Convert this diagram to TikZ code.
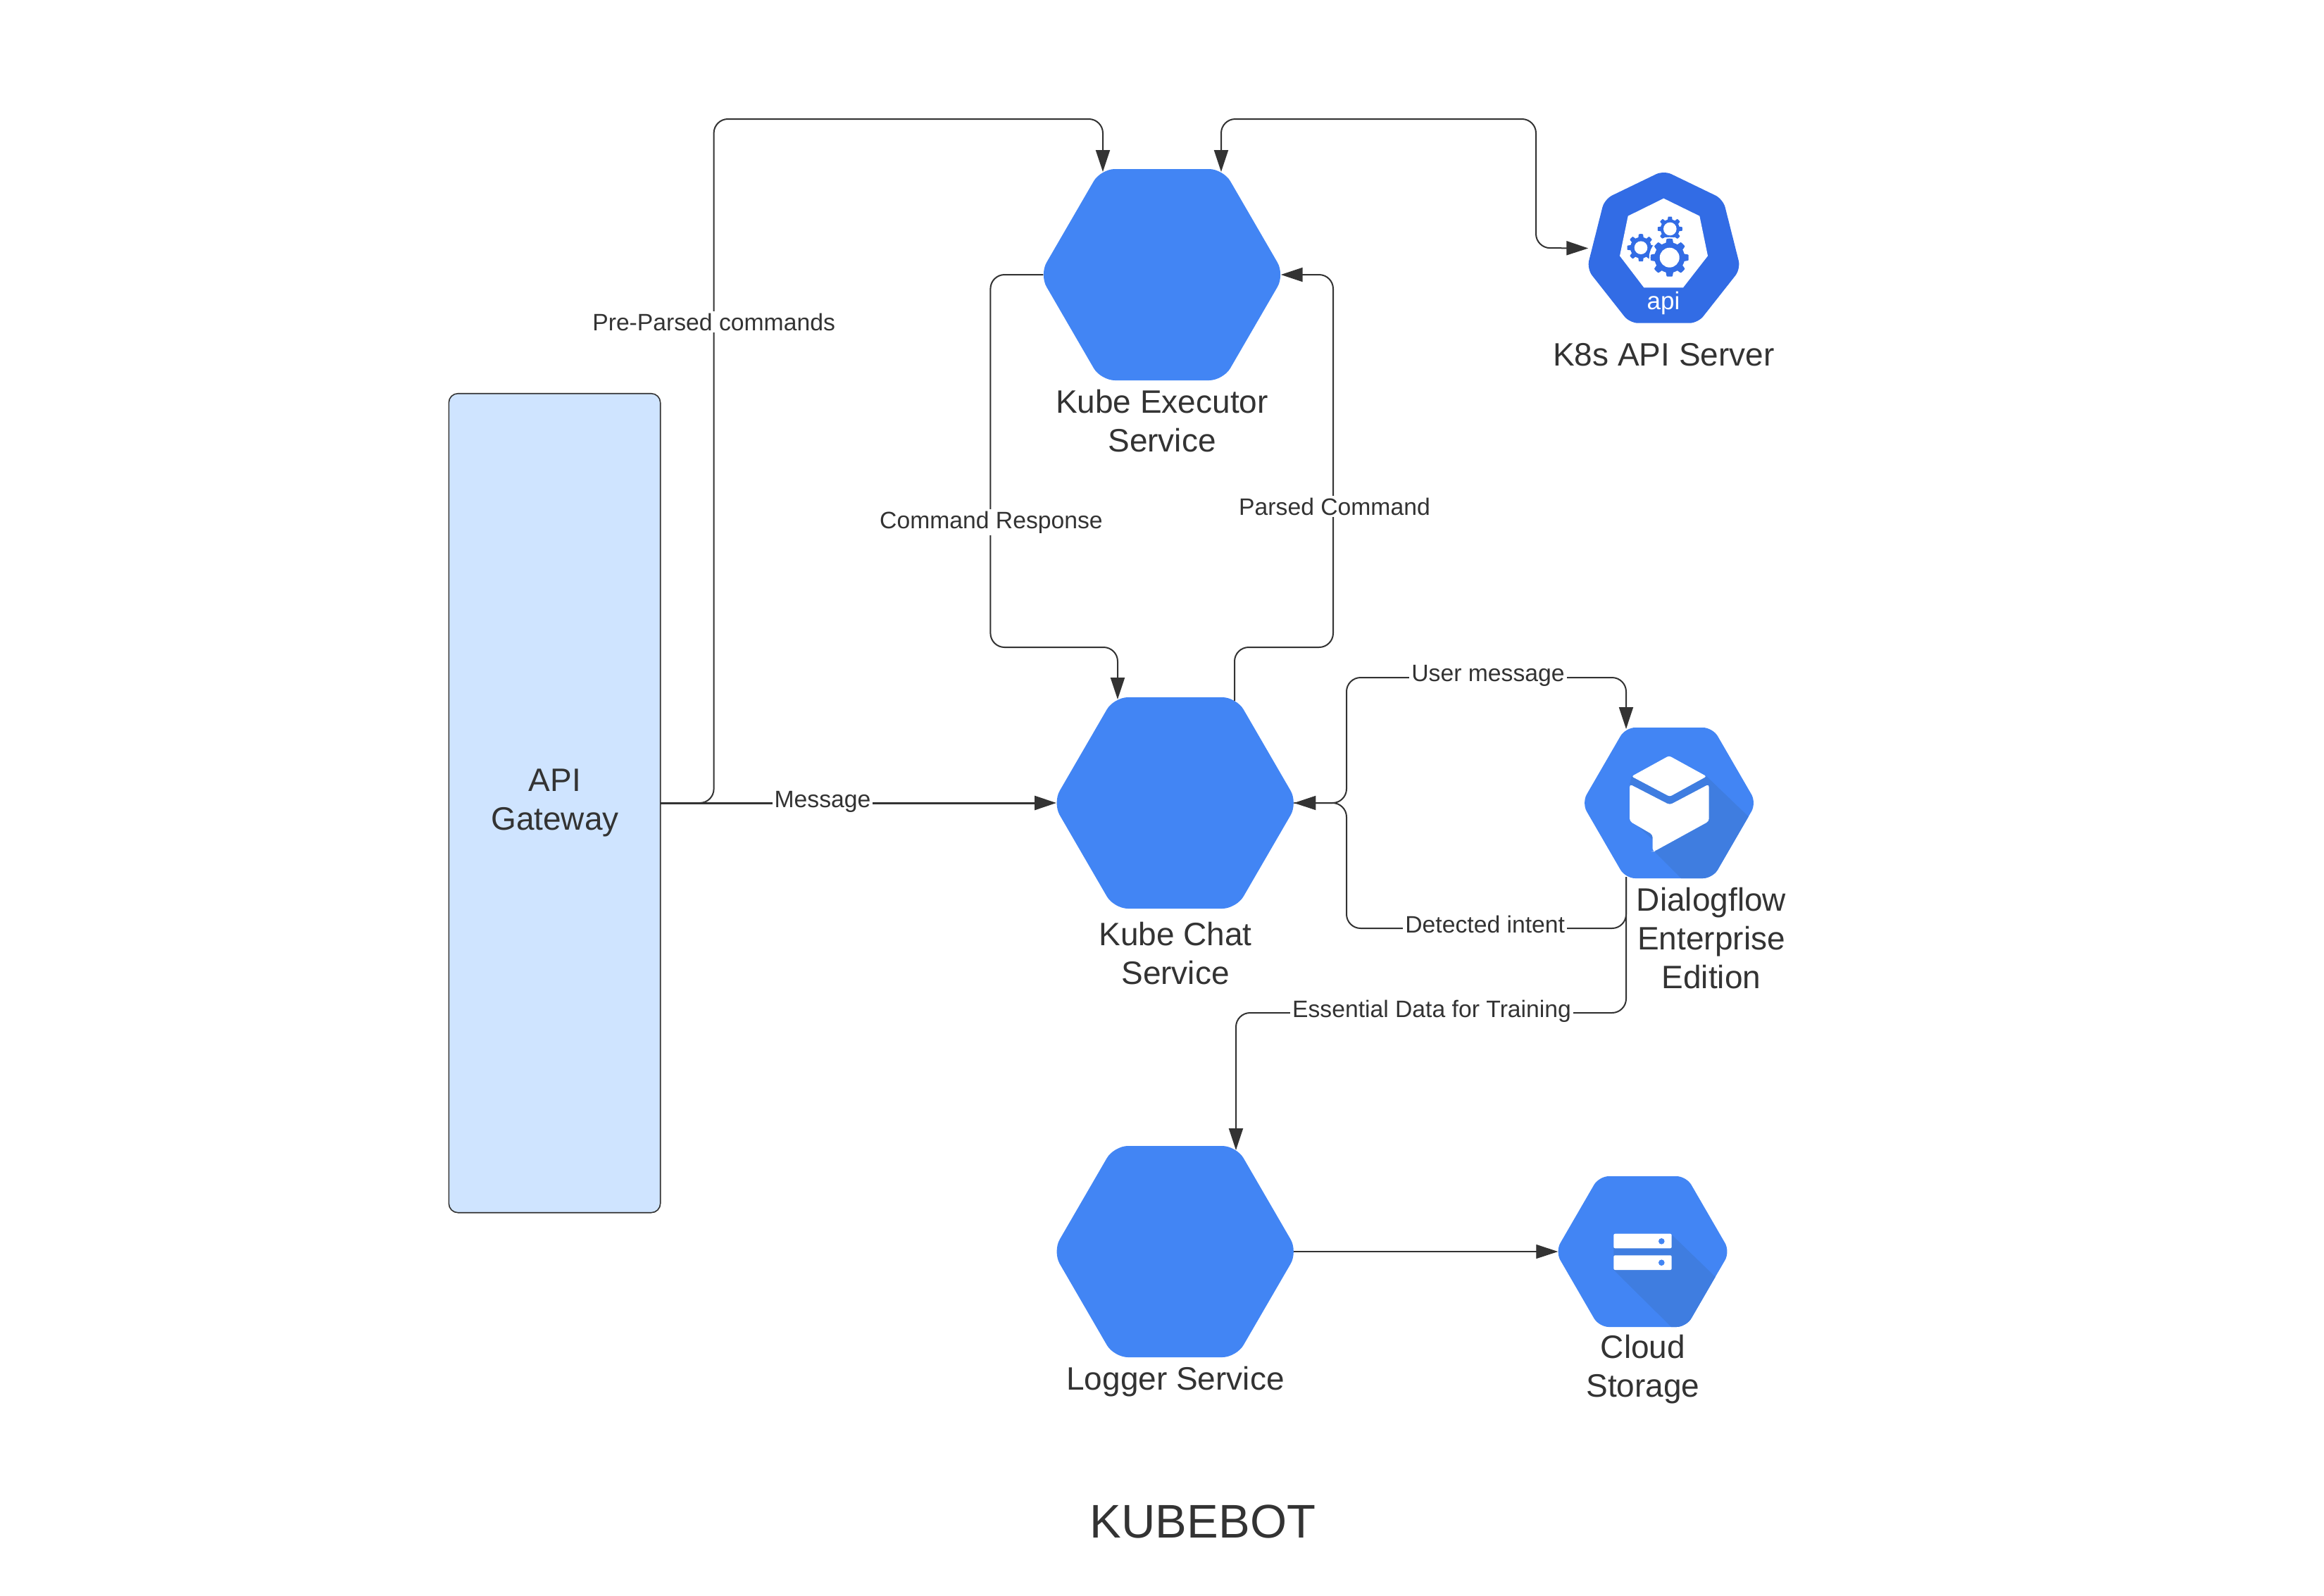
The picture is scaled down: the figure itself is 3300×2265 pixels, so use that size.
\documentclass[tikz,border=0pt]{standalone}
\usepackage{fontspec}
\setmainfont{Liberation Sans}
\usetikzlibrary{arrows.meta,calc}
\definecolor{ink}{HTML}{333333}
\definecolor{gcpblue}{HTML}{4285F4}
\definecolor{gcpshade}{HTML}{3F7DE0}
\definecolor{k8sblue}{HTML}{326CE5}
\definecolor{boxblue}{HTML}{CFE4FF}
\newcommand\hexpath[5]{(#1,#2-#5) -- ({#1+#4},{#2-#5}) -- ({#1+#3},#2) -- ({#1+#4},{#2+#5}) -- ({#1-#4},{#2+#5}) -- ({#1-#3},#2) -- ({#1-#4},{#2-#5}) -- cycle}
\newcommand\gearshape[6]{%
  \fill[#6] plot[domain=0:360,samples=241] ({#1+(#4+(#3-#4)*min(1,max(0,0.5+1.4*cos(8*\x))))*cos(\x)},{#2+(#4+(#3-#4)*min(1,max(0,0.5+1.4*cos(8*\x))))*sin(\x)}) -- cycle;
  \fill[white] (#1,#2) circle (#5pt);}
\tikzset{
  link/.style={draw=ink,line width=2pt,rounded corners=20pt},
  head/.style={-{Triangle[length=31pt,width=20pt]}},
  twohead/.style={{Triangle[length=31pt,width=20pt]}-{Triangle[length=31pt,width=20pt]}},
  tag/.style={fill=white,text=ink,font=\fontsize{33.7}{40}\selectfont,anchor=base,inner xsep=3pt,inner ysep=3pt},
  caption/.style={text=ink,font=\fontsize{46}{55}\selectfont,align=center,inner sep=0pt},
  bigport/.style={minimum width=337pt,minimum height=300pt,inner sep=0pt},
  smallport/.style={minimum width=240pt,minimum height=214pt,inner sep=0pt},
  hexsoft/.style={rounded corners=20pt},
  hexsoftsmall/.style={rounded corners=14pt},
}
\begin{document}
\begin{tikzpicture}[x=1pt,y=-1pt]
\useasboundingbox (0,0) rectangle (3300,2265);
% ---------- service shapes ----------
\node[draw=ink,line width=1.6pt,fill=boxblue,rounded corners=13pt,minimum width=300.4pt,minimum height=1163pt,inner sep=0pt] (api) at (787.5,1140.2) {};
\node[bigport] (exec) at (1650,390) {};
\node[bigport] (chat) at (1668.7,1140) {};
\node[bigport] (logger) at (1668.7,1777) {};
\node[smallport] (flow) at (2370,1140) {};
\node[smallport] (store) at (2332.5,1777) {};
\node[minimum width=214pt,minimum height=214pt,inner sep=0pt] (kapi) at (2362.5,352.5) {};
\fill[gcpblue,hexsoft] \hexpath{1650}{390}{174}{87}{150};
\fill[gcpblue,hexsoft] \hexpath{1668.7}{1140}{174}{87}{150};
\fill[gcpblue,hexsoft] \hexpath{1668.7}{1777}{174}{87}{150};
% Dialogflow
\fill[gcpblue,hexsoftsmall] \hexpath{2370}{1140}{124}{62}{107};
\begin{scope}
  \clip[hexsoftsmall] \hexpath{2370}{1140}{124}{62}{107};
  \fill[gcpshade] (2423.3,1102.3) -- (2500,1176) -- (2500,1260) -- (2400,1260) -- (2348,1208) -- (2346.7,1192) -- (2318,1166) -- cycle;
\end{scope}
\fill[gcpshade] (2316.7,1102.3) -- (2371,1131) -- (2423.3,1102.3) -- (2426.7,1113.3) -- (2371,1142.7) -- (2314,1113.3) -- cycle;
\fill[white,rounded corners=3pt] (2316.7,1102.3) -- (2370,1073) -- (2423.3,1102.3) -- (2371,1131) -- cycle;
\fill[white,rounded corners=4pt] (2314,1113.3) -- (2371,1142.7) -- (2426.7,1113.3) -- (2426.7,1166) -- (2348.5,1209) -- (2346.7,1209) -- (2346.7,1185) -- (2314,1166) -- cycle;
% Cloud storage
\fill[gcpblue,hexsoftsmall] \hexpath{2332.5}{1777}{124}{62}{107};
\begin{scope}
  \clip[hexsoftsmall] \hexpath{2332.5}{1777}{124}{62}{107};
  \fill[gcpshade] (2373.7,1753) -- (2500,1875) -- (2500,1950) -- (2440,1950) -- (2291.3,1803) -- (2291.3,1772.3) -- cycle;
\end{scope}
\fill[white,rounded corners=2pt] (2291.3,1751.7) rectangle (2373.7,1772.3);
\fill[white,rounded corners=2pt] (2291.3,1782.3) rectangle (2373.7,1803);
\fill[gcpblue] (2359.3,1762.3) circle (4.3pt);
\fill[gcpblue] (2359.3,1792.7) circle (4.3pt);
% Kubernetes API
\fill[k8sblue,rounded corners=12pt] (2362.5,242) -- (2446.7,282.7) -- (2471.7,381.7) -- (2411,458.7) -- (2314,458.7) -- (2253.3,381.7) -- (2278.3,282.7) -- cycle;
\fill[white] (2362.3,281.7) -- (2413.3,306.7) -- (2425,363.3) -- (2390,408.3) -- (2334.3,408.3) -- (2300,363.3) -- (2311.7,306.7) -- cycle;
\gearshape{2371.3}{325}{17.5}{13.5}{9.3}{k8sblue}
\gearshape{2330}{351.7}{19.5}{15}{9.3}{k8sblue}
\fill[white] (2370.7,365.7) circle (29pt);
\gearshape{2370.7}{365.7}{27}{21.5}{14}{k8sblue}
\node[text=white,font=\fontsize{35}{40}\selectfont,anchor=base,inner sep=0pt] (apitxt) at (2362,439) {api};
% ---------- ports ----------
\coordinate (execA) at (1566,244);
\coordinate (execB) at (1734,244);
\coordinate (chatIn) at (1587,993);
\coordinate (chatOut) at (1753,995);
\coordinate (flowIn) at (2309,1035);
\coordinate (flowOut) at (2309,1245);
\coordinate (logIn) at (1755,1633);
\coordinate (apiOut) at (937.7,1140);
% ---------- connectors ----------
\draw[link,head,line width=3pt] (apiOut) -- (chat.west);
\draw[link,head] (apiOut) -- (1013.6,1140) -- (1013.6,169) -- (1566,169) -- (execA);
\draw[link,twohead] (execB) -- (1734,169) -- (2181,169) -- (2181,352) -- (kapi.west);
\draw[link,head] (exec.west) -- (1406.4,390) -- (1406.4,919) -- (1587,919) -- (chatIn);
\draw[link,head] (chatOut) -- (1753,919) -- (1893,919) -- (1893,390) -- (exec.east);
\draw[link,head] (chat.east) -- (1912,1140) -- (1912,962) -- (2309,962) -- (flowIn);
\draw[link,head] (flowOut) -- (2309,1318) -- (1912,1318) -- (1912,1140) -- (chat.east);
\draw[link,head] (flowOut) -- (2309,1438) -- (1755,1438) -- (logIn);
\draw[link,head,line width=1.2pt] (logger.east) -- (store.west);
% ---------- connector labels ----------
\node[tag] (t1) at (1013.6,469) {Pre-Parsed commands};
\node[tag] (t2) at (1407.5,750) {Command Response};
\node[tag] (t3) at (1895,731) {Parsed Command};
\node[tag] (t4) at (1168,1146.7) {Message};
\node[tag] (t5) at (2113,967.5) {User message};
\node[tag] (t6) at (2108.7,1324.6) {Detected intent};
\node[tag] (t7) at (2033,1444) {Essential Data for Training};
% ---------- captions ----------
\node[caption] (c1) at (788,1140) {API\\Gateway};
\node[caption] (c2) at (1650,598) {Kube Executor\\Service};
\node[caption] (c3) at (1669,1354) {Kube Chat\\Service};
\node[caption] (c4) at (1669,1962) {Logger Service};
\node[caption] (c5) at (2362.5,504) {K8s API Server};
\node[caption] (c6) at (2430,1332) {Dialogflow\\Enterprise\\Edition};
\node[caption] (c7) at (2333,1944) {Cloud\\Storage};
\node[text=ink,font=\fontsize{67}{80}\selectfont,inner sep=0pt] (title) at (1708,2160) {KUBEBOT};
\end{tikzpicture}
\end{document}
